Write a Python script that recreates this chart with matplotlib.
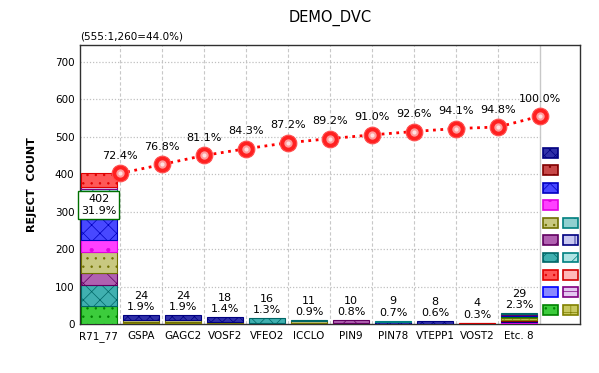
import numpy as np
import matplotlib
matplotlib.use("Agg")
import matplotlib.pyplot as plt
from matplotlib.patches import Patch

# data
categories = ["R71_77", "GSPA", "GAGC2", "VOSF2", "VFEO2", "ICCLO",
              "PIN9", "PIN78", "VTEPP1", "VOST2", "Etc. 8"]
total_tested = 1260

# defect type styles: (face, edge, hatch)
type_styles = [
    ("#3ccc3c", "#008000", ".."),    # 0 green dots
    ("#40b0b0", "#006666", "xx"),    # 1 teal diag
    ("#b060b0", "#600060", "x"),     # 2 purple diamonds
    ("#c8c880", "#707000", ".."),    # 3 olive dots
    ("#ff40ff", "#e000e0", "."),     # 4 magenta
    ("#4848ff", "#0000c0", "xx"),    # 5 blue waves
    ("#3030a8", "#000080", "xxx"),   # 6 navy dense
    ("#b0e4e4", "#008080", "//"),    # 7 teal light
    ("#e4c8f0", "#800080", "-"),     # 8 purple dash
    ("#ff5858", "#e00000", ".."),    # 9 red dots
    ("#c84848", "#800000", ".."),    # 10 darkred dots
    ("#90d0d0", "#008080", "."),     # 11 teal dots
    ("#c8c860", "#808000", "++"),    # 12 olive checkered
    ("#ffb8b8", "#d00000", "."),     # 13 light red
    ("#8888ff", "#0000ff", "."),     # 14 blue dots
    ("#c8c8f0", "#000080", "|"),     # 15 navy vertical
]

stack_types = [
    [0, 1, 2, 3, 4, 5, 6, 7, 8, 9],
    [9, 12, 3, 6],
    [9, 12, 3, 6],
    [9, 3, 6],
    [4, 6, 1],
    [10, 3, 1],
    [3, 2],
    [6, 7],
    [6],
    [9, 13],
    [9, 4, 6, 10, 12, 3, 0, 5, 2, 1],
]
stack_counts = [
    [49, 54, 34, 54, 32, 57, 40, 40, 5, 37],
    [3, 2, 5, 14],
    [3, 2, 5, 14],
    [2, 3, 13],
    [2, 2, 12],
    [4, 3, 4],
    [2, 8],
    [6, 3],
    [8],
    [3, 1],
    [3, 3, 3, 3, 3, 3, 3, 3, 2, 3],
]

legend_col1 = [6, 10, 5, 4, 3, 2, 1, 9, 14, 0]
legend_col2 = [11, 15, 7, 13, 8, 12]

totals = np.array([sum(c) for c in stack_counts])
cum = np.cumsum(totals)
cum_pct = cum / cum[-1] * 100
x = np.arange(len(categories))

plt.rcParams["hatch.linewidth"] = 0.5
fig = plt.figure(figsize=(5.99, 3.73), dpi=100)
ax = fig.add_axes([80/599, 49/373, 500/599, 279/373])

w = 0.84
for i in range(len(categories)):
    bottom = 0
    for t, c in zip(stack_types[i], stack_counts[i]):
        fc, ec, h = type_styles[t]
        ax.bar(x[i], c, w, bottom=bottom, color=fc, edgecolor=ec,
               hatch=h, linewidth=0.8, zorder=3)
        bottom += c
    label = f"{totals[i]}\n{totals[i]/total_tested*100:.1f}%"
    if i == 0:
        ax.text(x[i], totals[i] * 0.79, label, ha="center", va="center",
                fontsize=8, linespacing=1.2, zorder=6,
                bbox=dict(boxstyle="square,pad=0.25", fc="white",
                          ec="#007000", lw=1.0))
    else:
        ax.annotate(label, (x[i], totals[i]), xytext=(0, 2),
                    textcoords="offset points", ha="center", va="bottom",
                    fontsize=8, linespacing=1.2, zorder=6)

# cumulative line
xc = x + 0.5
ax.plot(xc, cum, ls=":", color="#ff0000", lw=2, zorder=4)
ax.plot(xc, cum, ls="none", marker="o", ms=12, mfc="#ff2020",
        mec="#ff5050", mew=0.8, zorder=5)
ax.plot(xc, cum, ls="none", marker="o", ms=6, mfc="#ff9a9a",
        mec="none", zorder=5)
ax.plot(xc, cum, ls="none", marker="o", ms=3, mfc="#ffe0e0",
        mec="none", zorder=5)
for xi, yi, p in zip(xc, cum, cum_pct):
    ax.annotate(f"{p:.1f}%", (xi, yi), xytext=(0, 9),
                textcoords="offset points", ha="center", va="bottom",
                fontsize=8, zorder=6)

ax.set_xlim(-0.45, 11.45)
ax.set_ylim(0, 745)
for b in np.arange(0.5, 10.5):
    ax.axvline(b, color="#c8c8c8", ls=(0, (3, 2)), lw=0.8, zorder=1)
ax.axvline(10.5, color="#c8c8c8", lw=1.0, zorder=1)
ax.hlines(np.arange(100, 800, 100), -0.45, 10.5, colors="#c0c0c0",
          linestyles=(0, (1, 1.5)), lw=0.9, zorder=1)

ax.set_xticks(x, categories, fontsize=7.5)
ax.set_yticks(np.arange(0, 800, 100))
ax.tick_params(axis="both", length=0, labelsize=7.5)
ax.tick_params(axis="x", pad=5)
ax.tick_params(axis="y", pad=4)
for s in ax.spines.values():
    s.set_color("#303030")
    s.set_linewidth(1.0)

ax.set_ylabel("REJECT  COUNT", fontsize=8, fontweight="bold", labelpad=13)
fig.text(330/599, 1 - 18/373, "DEMO_DVC", ha="center", va="center", fontsize=10.5)
ax.text(0.0, 1.012, f"({cum[-1]}:{total_tested:,}={cum[-1]/total_tested*100:.1f}%)",
        transform=ax.transAxes, ha="left", va="bottom", fontsize=7.5)

# legend swatches
handles = []
for t in legend_col1:
    fc, ec, h = type_styles[t]
    handles.append(Patch(facecolor=fc, edgecolor=ec, hatch=h, lw=1.2))
for _ in range(len(legend_col1) - len(legend_col2)):
    handles.append(Patch(facecolor="none", edgecolor="none"))
for t in legend_col2:
    fc, ec, h = type_styles[t]
    handles.append(Patch(facecolor=fc, edgecolor=ec, hatch=h, lw=1.2))
ax.legend(handles, [""] * len(handles), ncol=2, frameon=False,
          loc="lower right", bbox_to_anchor=(0.995, 0.03), fontsize=8,
          handlelength=1.35, handleheight=1.0, labelspacing=0.6,
          handletextpad=0.0, columnspacing=0.45, borderpad=0.0,
          borderaxespad=0.0)

fig.savefig("out.png", dpi=100)
